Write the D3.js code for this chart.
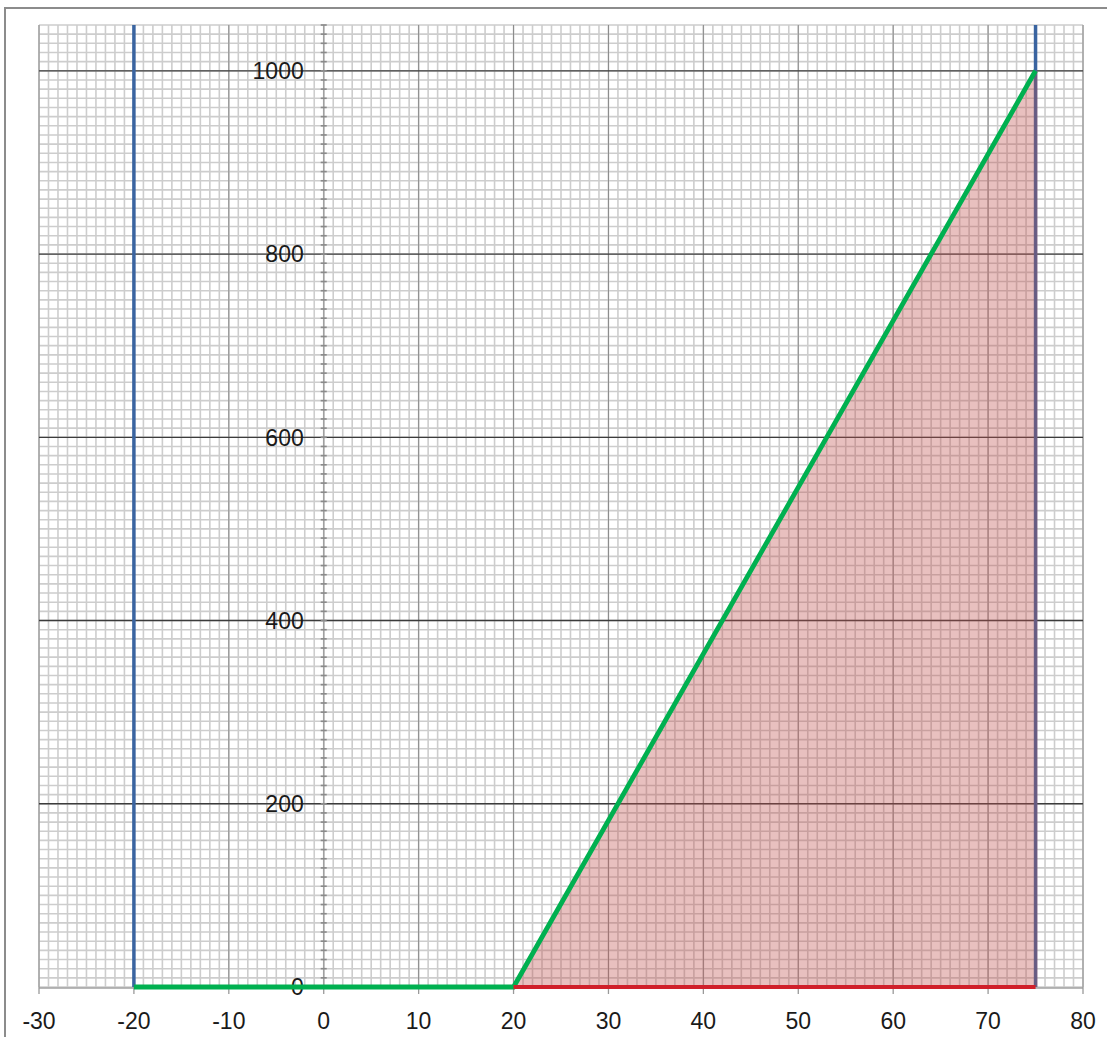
<!DOCTYPE html>
<html>
<head>
<meta charset="utf-8">
<script src="https://cdn.jsdelivr.net/npm/d3@7"></script>
<style>
  body { margin: 0; background: #fff; }
  svg { display: block; }
  text { font-family: "Liberation Sans", Arial, sans-serif; fill: #1a1a1a; }
</style>
</head>
<body>
<svg width="1107" height="1037"></svg>
<script>
// axis ticks
const xTicks = [-30, -20, -10, 0, 10, 20, 30, 40, 50, 60, 70, 80];
const yTicks = [0, 200, 400, 600, 800, 1000];

// series
const blueX = [-20, 75];            // vertical bounds
const blueTop = 1050;
const greenX = [-20, 20, 75];
const greenY = [0, 0, 1000];
const redX = [20, 75];
const redY = [0, 0];
const fillX = [20, 75, 75];
const fillY = [0, 1000, 0];

const svg = d3.select('svg');
const plotL = 39, plotR = 1083, plotT = 25, plotB = 987;

const x = d3.scaleLinear().domain([-30, 80]).range([plotL, plotR]);
const y = d3.scaleLinear().domain([0, 1050]).range([plotB, plotT]);

// outer border
svg.append('path')
  .attr('d', 'M5,1040 L5,8 L1110,8')
  .attr('fill', 'none')
  .attr('stroke', '#8c8c8c')
  .attr('stroke-width', 2);

const grid = svg.append('g');

// minor grid
grid.selectAll('.vminor')
  .data(d3.range(-30, 81, 1))
  .enter().append('line')
  .attr('x1', d => x(d)).attr('x2', d => x(d))
  .attr('y1', plotT).attr('y2', plotB)
  .attr('stroke', '#cdcdcd').attr('stroke-width', 1.6);

grid.selectAll('.hminor')
  .data(d3.range(0, 1051, 10))
  .enter().append('line')
  .attr('y1', d => y(d)).attr('y2', d => y(d))
  .attr('x1', plotL).attr('x2', plotR)
  .attr('stroke', '#cdcdcd').attr('stroke-width', 1.6);

// major vertical grid
grid.selectAll('.vmajor')
  .data(xTicks.filter(d => d !== 0))
  .enter().append('line')
  .attr('x1', d => x(d)).attr('x2', d => x(d))
  .attr('y1', plotT).attr('y2', plotB)
  .attr('stroke', '#8a8a8a').attr('stroke-width', 1);

// major horizontal grid
grid.selectAll('.hmajor')
  .data(yTicks.filter(d => d !== 0))
  .enter().append('line')
  .attr('y1', d => y(d)).attr('y2', d => y(d))
  .attr('x1', plotL).attr('x2', plotR)
  .attr('stroke', '#3c3c3c').attr('stroke-width', 1.3);

// y axis at x = 0
const yAxis = svg.append('g');
yAxis.append('line')
  .attr('x1', x(0)).attr('x2', x(0))
  .attr('y1', plotT).attr('y2', plotB)
  .attr('stroke', '#a0a0a0').attr('stroke-width', 1.5);
yAxis.selectAll('.ytick')
  .data(d3.range(0, 1051, 10))
  .enter().append('line')
  .attr('x1', x(0) - 3).attr('x2', x(0) + 3)
  .attr('y1', d => y(d)).attr('y2', d => y(d))
  .attr('stroke', '#8a8a8a').attr('stroke-width', 1.6);
yAxis.selectAll('.ylabel')
  .data(yTicks)
  .enter().append('text')
  .attr('x', x(0) - 20)
  .attr('y', d => y(d))
  .attr('dy', '0.36em')
  .attr('text-anchor', 'end')
  .attr('font-size', 23)
  .text(d => d);

// x axis
const xAxis = svg.append('g');
xAxis.append('line')
  .attr('x1', plotL).attr('x2', plotR)
  .attr('y1', plotB + 1).attr('y2', plotB + 1)
  .attr('stroke', '#a0a0a0').attr('stroke-width', 1.5);
xAxis.selectAll('.xtick')
  .data(xTicks)
  .enter().append('line')
  .attr('x1', d => x(d)).attr('x2', d => x(d))
  .attr('y1', plotB).attr('y2', plotB + 7)
  .attr('stroke', '#9a9a9a').attr('stroke-width', 1.3);
xAxis.selectAll('.xlabel')
  .data(xTicks)
  .enter().append('text')
  .attr('x', d => x(d))
  .attr('y', 1029)
  .attr('text-anchor', 'middle')
  .attr('font-size', 23)
  .text(d => d);

// blue bounds
svg.selectAll('.bound')
  .data(blueX)
  .enter().append('line')
  .attr('x1', d => x(d)).attr('x2', d => x(d))
  .attr('y1', y(0)).attr('y2', y(blueTop))
  .attr('stroke', '#3a64a0').attr('stroke-width', 3.5);

// shaded area (thin same-colour stroke so it also tints the bound line)
const fillPts = fillX.map((d, i) => [x(d), y(fillY[i])]);
svg.append('path')
  .attr('d', d3.line()(fillPts) + 'Z')
  .attr('fill', 'rgba(192,80,77,0.36)');
svg.append('line')
  .attr('x1', x(fillX[1]) + 1).attr('x2', x(fillX[1]) + 1)
  .attr('y1', y(fillY[1])).attr('y2', y(0))
  .attr('stroke', 'rgba(192,80,77,0.36)').attr('stroke-width', 2);

// green line
const greenPts = greenX.map((d, i) => [x(d), y(greenY[i])]);
svg.append('path')
  .attr('d', d3.line()(greenPts))
  .attr('fill', 'none')
  .attr('stroke', '#00b050')
  .attr('stroke-width', 4.8);

// red line
const redPts = redX.map((d, i) => [x(d), y(redY[i])]);
svg.append('path')
  .attr('d', d3.line()(redPts))
  .attr('fill', 'none')
  .attr('stroke', '#d0202a')
  .attr('stroke-width', 4);
</script>
</body>
</html>
